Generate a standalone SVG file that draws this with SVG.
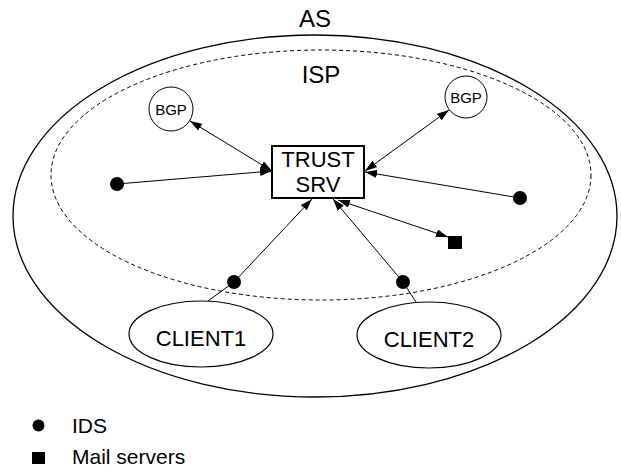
<svg xmlns="http://www.w3.org/2000/svg" width="621" height="472" viewBox="0 0 621 472">
<style>
text{font-family:"Liberation Sans",Arial,sans-serif;fill:#000}
.ln{stroke:#000;stroke-width:1;fill:none}
.ell{stroke:#000;stroke-width:1.2;fill:#fff}
</style>
<defs>
<marker id="ah" viewBox="0 0 12 8" refX="12" refY="4" markerWidth="12" markerHeight="8" markerUnits="userSpaceOnUse" orient="auto-start-reverse">
<path d="M0,0 L12,4 L0,8 z" fill="#000"/>
</marker>
</defs>
<rect width="621" height="472" fill="#fff"/>
<g id="as">
<ellipse cx="315" cy="216" rx="302" ry="181" fill="none" stroke="#000" stroke-width="1.3"/>
<text x="315" y="27" font-size="24" text-anchor="middle">AS</text>
</g>
<g id="isp">
<ellipse cx="321" cy="175" rx="270" ry="125" fill="none" stroke="#000" stroke-width="1" stroke-dasharray="4,3"/>
<text x="321" y="83" font-size="24" text-anchor="middle">ISP</text>
</g>
<g id="connectors">
<line class="ln" x1="117" y1="184" x2="272" y2="171" marker-end="url(#ah)"/>
<line class="ln" x1="190" y1="121" x2="272" y2="171" marker-start="url(#ah)" marker-end="url(#ah)"/>
<line class="ln" x1="449" y1="110" x2="365" y2="171" marker-start="url(#ah)" marker-end="url(#ah)"/>
<line class="ln" x1="520" y1="198" x2="365" y2="172" marker-end="url(#ah)"/>
<line class="ln" x1="338" y1="200" x2="448" y2="237" marker-start="url(#ah)" marker-end="url(#ah)"/>
<line class="ln" x1="208" y1="301" x2="234" y2="282"/>
<line class="ln" x1="234" y1="282" x2="312" y2="199" marker-end="url(#ah)"/>
<line class="ln" x1="416" y1="302" x2="403" y2="282"/>
<line class="ln" x1="403" y1="282" x2="333" y2="199" marker-end="url(#ah)"/>
</g>
<g id="bgp1">
<circle cx="171" cy="109" r="22" fill="#fff" stroke="#000" stroke-width="1"/>
<text x="171" y="114.5" font-size="15" text-anchor="middle">BGP</text>
</g>
<g id="bgp2">
<circle cx="466" cy="97" r="21" fill="#fff" stroke="#000" stroke-width="1"/>
<text x="466" y="102.5" font-size="15" text-anchor="middle">BGP</text>
</g>
<g id="trust">
<rect x="272" y="146" width="92" height="52" fill="#fff" stroke="#000" stroke-width="2"/>
<text x="318" y="167" font-size="22" text-anchor="middle">TRUST</text>
<text x="318" y="192" font-size="22" text-anchor="middle">SRV</text>
</g>
<g id="ids1"><circle cx="117" cy="184" r="7" fill="#000"/></g>
<g id="ids2"><circle cx="520" cy="198" r="7" fill="#000"/></g>
<g id="ids3"><circle cx="234" cy="282" r="7" fill="#000"/></g>
<g id="ids4"><circle cx="403" cy="282" r="7" fill="#000"/></g>
<g id="mail"><rect x="448" y="236" width="14" height="13" fill="#000"/></g>
<g id="client1">
<ellipse class="ell" cx="201" cy="334" rx="72" ry="33"/>
<text x="201" y="346" font-size="22" text-anchor="middle">CLIENT1</text>
</g>
<g id="client2">
<ellipse class="ell" cx="429" cy="335" rx="72" ry="33"/>
<text x="429" y="347" font-size="22" text-anchor="middle">CLIENT2</text>
</g>
<g id="legend">
<circle cx="38.5" cy="425.5" r="6" fill="#000"/>
<text x="72" y="433" font-size="21">IDS</text>
<rect x="32" y="452" width="13" height="12" fill="#000"/>
<text x="72" y="464" font-size="21">Mail servers</text>
</g>
</svg>
